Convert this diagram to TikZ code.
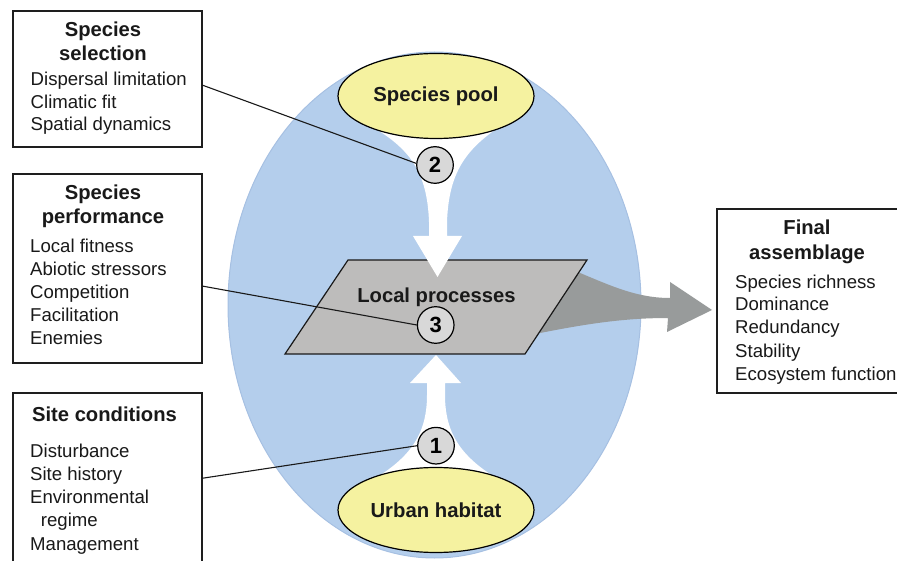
\documentclass[tikz,border=0pt]{standalone}
\usepackage{fontspec}
\setmainfont{Liberation Sans}
\usetikzlibrary{shapes.geometric}
\definecolor{bluebg}{RGB}{180,206,236}
\definecolor{blueedge}{RGB}{166,192,226}
\definecolor{ylw}{RGB}{245,242,160}
\definecolor{para}{RGB}{189,188,187}
\definecolor{garrow}{RGB}{152,155,155}
\definecolor{numfill}{RGB}{216,216,216}
\definecolor{boxline}{RGB}{30,30,30}
\definecolor{txt}{RGB}{25,25,25}
\begin{document}
\begin{tikzpicture}[x=1pt,y=-1pt,
  infobox/.style={draw=boxline, line width=2.6pt, fill=white, inner sep=0pt},
  item/.style={font=\fontsize{18.6}{22}\selectfont, anchor=base west, inner sep=0pt, text=txt},
  ttl/.style={font=\fontsize{20.2}{24}\selectfont\bfseries, anchor=base, inner sep=0pt, text=txt},
  oval/.style={ellipse, draw, line width=1.2pt, fill=ylw, minimum width=196pt, minimum height=85pt, inner sep=0pt, font=\fontsize{20.3}{24}\selectfont\bfseries, text=txt},
  num/.style={circle, draw, line width=1.2pt, fill=numfill, minimum size=36.6pt, inner sep=0pt, font=\fontsize{22}{24}\selectfont\bfseries},
  conn/.style={line width=1.1pt, draw=txt}]
\useasboundingbox (0,0) rectangle (897,561);
\begin{scope}
\clip (0,0) rectangle (897,561);
% big blue ellipse
\node[ellipse, draw=blueedge, line width=1pt, fill=bluebg, minimum width=413pt, minimum height=506pt, inner sep=0pt] (world) at (434.5,305) {};
% grey output arrow
\path[fill=garrow] (560,265) .. controls (600,280) and (630,298) .. (670,298) -- (670,282) -- (712,310) -- (667,332) -- (668,318) .. controls (620,318) and (580,325) .. (530,335) -- cycle;
% bottom white funnel
\path[fill=white] (436,355) -- (461,383) -- (445,383) -- (445,395) .. controls (445,440) and (467,465) .. (522,492) -- (350,492) .. controls (405,465) and (427,440) .. (427,395) -- (427,383) -- (410,383) -- cycle;
% parallelogram
\draw[fill=para, line width=1.2pt, draw=txt] (348,260) -- (587,260) -- (525,354) -- (285,354) -- cycle;
% top white funnel
\path[fill=white] (350,115) .. controls (405,142) and (427,165) .. (429,222) -- (429,236) -- (413,236) -- (437.5,277) -- (462,236) -- (447,236) -- (447,222) .. controls (449,165) and (471,142) .. (522,113) -- cycle;
% yellow ellipses
\node[oval] (pool) at (436,96) {Species pool};
\node[oval] (urban) at (436,510) {Urban habitat};
\node[ttl] (lp) at (436.5,302.7) {Local processes};
% number circles
\node[num] (c2) at (435,165) {2};
\node[num] (c3) at (435.7,325) {3};
\node[num] (c1) at (436,445.7) {1};
% boxes
\node[infobox, minimum width=189pt, minimum height=136pt] (box1) at (107.5,79) {};
\node[infobox, minimum width=189pt, minimum height=189pt] (box2) at (107.5,268.5) {};
\node[infobox, minimum width=189pt, minimum height=187pt] (box3) at (107.5,486.5) {};
\node[infobox, minimum width=183pt, minimum height=184pt] (box4) at (808.5,301) {};
% connector start points on the box edges
\coordinate (b1e) at (202,85);
\coordinate (b2e) at (202,286);
\coordinate (b3e) at (202,478.3);
\draw[conn] (b1e) -- (c2.175);
\draw[conn] (b2e) -- (c3.180);
\draw[conn] (b3e) -- (c1.180);
% box 1 text
\node[ttl] (t1a) at (103,37) {Species};
\node[ttl] (t1b) at (103,61) {selection};
\node[item] (i1a) at (30.5,85.5) {Dispersal limitation};
\node[item] (i1b) at (30.5,108.3) {Climatic fit};
\node[item] (i1c) at (30.5,131) {Spatial dynamics};
% box 2 text
\node[ttl] (t2a) at (103,200) {Species};
\node[ttl] (t2b) at (103,224) {performance};
\node[item] (i2a) at (30,253) {Local fitness};
\node[item] (i2b) at (30,275.9) {Abiotic stressors};
\node[item] (i2c) at (30,298.8) {Competition};
\node[item] (i2d) at (30,321.7) {Facilitation};
\node[item] (i2e) at (30,344.6) {Enemies};
% box 3 text
\node[ttl] (t3a) at (104.5,421.5) {Site conditions};
\node[item] (i3a) at (30,457.3) {Disturbance};
\node[item] (i3b) at (30,480.3) {Site history};
\node[item] (i3c) at (30,503.5) {Environmental};
\node[item] (i3d) at (40.7,526.7) {regime};
\node[item] (i3e) at (30,550) {Management};
% box 4 text
\node[ttl] (t4a) at (807,235) {Final};
\node[ttl] (t4b) at (807,260) {assemblage};
\node[item] (i4a) at (735,288.3) {Species richness};
\node[item] (i4b) at (735,311) {Dominance};
\node[item] (i4c) at (735,334) {Redundancy};
\node[item] (i4d) at (735,357) {Stability};
\node[item] (i4e) at (735,380) {Ecosystem function};
\end{scope}
\end{tikzpicture}
\end{document}
